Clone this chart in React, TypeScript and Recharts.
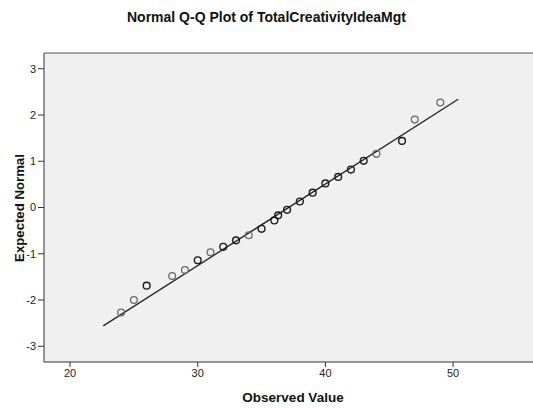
import React from "react";
import {
  ScatterChart,
  Scatter,
  XAxis,
  YAxis,
  CartesianGrid,
  ReferenceLine,
} from "recharts";

const lightObserved = [24, 25, 28, 29, 31, 34, 44, 47, 49];
const lightExpected = [-2.27, -2.0, -1.48, -1.35, -0.97, -0.6, 1.16, 1.9, 2.27];

const darkObserved = [26, 30, 32, 33, 35, 36, 36.3, 37, 38, 39, 40, 41, 42, 43, 46];
const darkExpected = [-1.69, -1.14, -0.85, -0.71, -0.46, -0.28, -0.17, -0.05, 0.13, 0.32, 0.52, 0.66, 0.82, 1.01, 1.44];

// ends of the fitted normal line
const lineObserved = [22.6, 50.4];
const lineExpected = [-2.56, 2.34];

const xTicks = [20, 30, 40, 50];
const yTicks = [-3, -2, -1, 0, 1, 2, 3];

const toPoints = (xs: number[], ys: number[]) => xs.map((x, i) => ({ x, y: ys[i] }));

const font = "'Liberation Sans', Arial, sans-serif";

export default function App() {
  const light = toPoints(lightObserved, lightExpected);
  const dark = toPoints(darkObserved, darkExpected);
  const fit = toPoints(lineObserved, lineExpected);

  return (
    <div style={{ position: "absolute", left: 0, top: 0, width: 533, height: 409, background: "#fff", fontFamily: font }}>
      <div
        style={{
          position: "absolute",
          top: 9,
          left: 0,
          width: 533,
          textAlign: "center",
          fontWeight: "bold",
          fontSize: 14,
          color: "#111",
        }}
      >
        Normal Q-Q Plot of TotalCreativityIdeaMgt
      </div>
      <div
        style={{
          position: "absolute",
          left: 19,
          top: 208,
          transform: "translate(-50%, -50%) rotate(-90deg)",
          whiteSpace: "nowrap",
          fontWeight: "bold",
          fontSize: 13.2,
          color: "#111",
        }}
      >
        Expected Normal
      </div>
      <div
        style={{
          position: "absolute",
          left: 293,
          top: 397,
          transform: "translate(-50%, -50%)",
          whiteSpace: "nowrap",
          fontWeight: "bold",
          fontSize: 13.5,
          color: "#111",
        }}
      >
        Observed Value
      </div>
      <ScatterChart
        width={533}
        height={409}
        margin={{ top: 53, right: 0, bottom: 17, left: 8 }}
        style={{ position: "absolute", left: 0, top: 0 }}
      >
        <CartesianGrid fill="#f0f0f0" horizontal={false} vertical={false} />
        <XAxis
          type="number"
          dataKey="x"
          domain={[17.96, 56.26]}
          ticks={xTicks}
          allowDataOverflow
          height={30}
          tickSize={5}
          stroke="#333"
          tick={{ fill: "#222", fontSize: 11, fontFamily: font }}
        />
        <YAxis
          type="number"
          dataKey="y"
          domain={[-3.34, 3.34]}
          ticks={yTicks}
          allowDataOverflow
          width={36}
          tickSize={6}
          stroke="#333"
          tick={{ fill: "#222", fontSize: 11, fontFamily: font }}
        />
        <ReferenceLine y={3.34} stroke="#555" strokeWidth={1} />
        <Scatter
          data={fit}
          line={{ stroke: "#222", strokeWidth: 1.3 }}
          shape={() => null}
          isAnimationActive={false}
        />
        <Scatter
          data={light}
          shape={(p: any) => (
            <circle cx={p.cx} cy={p.cy} r={3.4} fill="none" stroke="#6a6a6a" strokeWidth={1.3} />
          )}
          isAnimationActive={false}
        />
        <Scatter
          data={dark}
          shape={(p: any) => (
            <circle cx={p.cx} cy={p.cy} r={3.4} fill="none" stroke="#1a1a1a" strokeWidth={1.4} />
          )}
          isAnimationActive={false}
        />
      </ScatterChart>
    </div>
  );
}
